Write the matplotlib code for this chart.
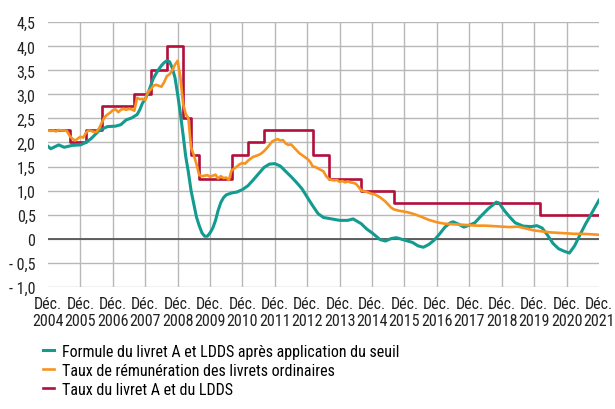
import pandas as pd
import matplotlib
matplotlib.use("Agg")
import matplotlib.pyplot as plt

# --- données
# taux du livret A et du LDDS : dates de changement et taux
livret_a_dates = ["2004-12", "2005-08", "2006-02", "2006-08", "2007-08", "2008-02",
                  "2008-08", "2009-02", "2009-05", "2009-08", "2010-08", "2011-02",
                  "2011-08", "2013-02", "2013-08", "2014-08", "2015-08", "2020-02",
                  "2021-12"]
livret_a_taux = [2.25, 2.00, 2.25, 2.75, 3.00, 3.50,
                 4.00, 2.50, 1.75, 1.25, 1.75, 2.00,
                 2.25, 1.75, 1.25, 1.00, 0.75, 0.50,
                 0.50]

# formule du livret A après application du seuil
formule_dates = ["2004-12", "2005-01", "2005-04", "2005-06", "2005-09", "2005-12",
                 "2006-02", "2006-04", "2006-07", "2006-10", "2007-01", "2007-03",
                 "2007-05", "2007-07", "2007-09", "2007-10", "2007-11", "2007-12",
                 "2008-01", "2008-02", "2008-03", "2008-04", "2008-05", "2008-06",
                 "2008-07", "2008-08", "2008-09", "2008-10", "2008-11", "2008-12",
                 "2009-01", "2009-02", "2009-03", "2009-04", "2009-05", "2009-06",
                 "2009-07", "2009-08", "2009-09", "2009-10", "2009-11", "2009-12",
                 "2010-01", "2010-02", "2010-03", "2010-04", "2010-05", "2010-06",
                 "2010-08", "2010-10", "2010-12", "2011-02", "2011-04", "2011-06",
                 "2011-08", "2011-10", "2011-12", "2012-02", "2012-04", "2012-06",
                 "2012-08", "2012-10", "2012-12", "2013-02", "2013-04", "2013-06",
                 "2013-09", "2013-12", "2014-03", "2014-05", "2014-08", "2014-10",
                 "2014-12", "2015-03", "2015-05", "2015-07", "2015-09", "2015-12",
                 "2016-03", "2016-05", "2016-07", "2016-09", "2016-11", "2017-01",
                 "2017-03", "2017-05", "2017-06", "2017-08", "2017-10", "2017-12",
                 "2018-02", "2018-04", "2018-07", "2018-10", "2018-11", "2019-01",
                 "2019-03", "2019-05", "2019-08", "2019-11", "2020-01", "2020-03",
                 "2020-05", "2020-07", "2020-09", "2020-11", "2021-01", "2021-03",
                 "2021-05", "2021-07", "2021-09", "2021-12"]
formule_taux = [1.92, 1.87, 1.95, 1.90, 1.94, 1.95,
                2.00, 2.08, 2.25, 2.33, 2.34, 2.37,
                2.47, 2.51, 2.58, 2.68, 2.82, 2.90,
                3.02, 3.18, 3.33, 3.43, 3.52, 3.60,
                3.66, 3.70, 3.68, 3.55, 3.35, 3.00,
                2.60, 2.15, 1.72, 1.38, 1.00, 0.72,
                0.45, 0.27, 0.12, 0.05, 0.05, 0.12,
                0.22, 0.38, 0.58, 0.75, 0.85, 0.91,
                0.95, 0.97, 1.02, 1.10, 1.22, 1.35,
                1.48, 1.55, 1.56, 1.51, 1.40, 1.29,
                1.17, 1.04, 0.86, 0.68, 0.52, 0.44,
                0.41, 0.38, 0.38, 0.41, 0.31, 0.20,
                0.12, -0.02, -0.05, 0.00, 0.02, -0.03,
                -0.08, -0.15, -0.18, -0.12, -0.03, 0.10,
                0.24, 0.33, 0.35, 0.30, 0.24, 0.28,
                0.33, 0.45, 0.62, 0.76, 0.74, 0.58,
                0.45, 0.33, 0.26, 0.25, 0.27, 0.22,
                0.07, -0.10, -0.21, -0.26, -0.30, -0.15,
                0.08, 0.30, 0.50, 0.80]

# taux de rémunération des livrets ordinaires
ordinaires_dates = ["2004-12", "2005-01", "2005-02", "2005-03", "2005-04", "2005-05",
                    "2005-06", "2005-07", "2005-08", "2005-09", "2005-10", "2005-11",
                    "2005-12", "2006-01", "2006-02", "2006-03", "2006-04", "2006-05",
                    "2006-06", "2006-07", "2006-08", "2006-09", "2006-10", "2006-11",
                    "2006-12", "2007-01", "2007-02", "2007-03", "2007-04", "2007-05",
                    "2007-06", "2007-07", "2007-08", "2007-09", "2007-10", "2007-11",
                    "2007-12", "2008-01", "2008-02", "2008-03", "2008-04", "2008-05",
                    "2008-06", "2008-07", "2008-08", "2008-09", "2008-10", "2008-11",
                    "2008-12", "2009-01", "2009-02", "2009-03", "2009-04", "2009-05",
                    "2009-06", "2009-07", "2009-08", "2009-09", "2009-10", "2009-11",
                    "2009-12", "2010-01", "2010-02", "2010-03", "2010-04", "2010-05",
                    "2010-06", "2010-07", "2010-08", "2010-09", "2010-10", "2010-11",
                    "2010-12", "2011-01", "2011-02", "2011-03", "2011-04", "2011-05",
                    "2011-06", "2011-07", "2011-08", "2011-09", "2011-10", "2011-11",
                    "2011-12", "2012-01", "2012-02", "2012-03", "2012-04", "2012-05",
                    "2012-06", "2012-07", "2012-08", "2012-09", "2012-10", "2012-11",
                    "2012-12", "2013-01", "2013-02", "2013-03", "2013-04", "2013-05",
                    "2013-06", "2013-07", "2013-08", "2013-09", "2013-10", "2013-11",
                    "2013-12", "2014-01", "2014-02", "2014-03", "2014-04", "2014-05",
                    "2014-06", "2014-07", "2014-08", "2014-09", "2014-10", "2014-11",
                    "2014-12", "2015-01", "2015-03", "2015-05", "2015-07", "2015-08",
                    "2015-10", "2015-12", "2016-01", "2016-03", "2016-06", "2016-09",
                    "2016-12", "2017-03", "2017-06", "2017-09", "2017-12", "2018-03",
                    "2018-06", "2018-09", "2018-12", "2019-03", "2019-06", "2019-09",
                    "2019-12", "2020-03", "2020-06", "2020-09", "2020-12", "2021-03",
                    "2021-06", "2021-09", "2021-12"]
ordinaires_taux = [2.25, 2.24, 2.25, 2.23, 2.26, 2.25,
                   2.25, 2.24, 2.14, 2.08, 2.04, 2.08,
                   2.12, 2.10, 2.20, 2.25, 2.24, 2.22,
                   2.22, 2.30, 2.42, 2.53, 2.58, 2.62,
                   2.67, 2.69, 2.63, 2.68, 2.70, 2.68,
                   2.70, 2.69, 2.66, 2.93, 2.90, 2.91,
                   2.88, 3.06, 3.10, 3.18, 3.20, 3.18,
                   3.16, 3.25, 3.38, 3.42, 3.50, 3.62,
                   3.70, 3.35, 2.80, 2.60, 2.50, 1.90,
                   1.74, 1.55, 1.32, 1.30, 1.31, 1.32,
                   1.29, 1.31, 1.33, 1.25, 1.30, 1.26,
                   1.27, 1.22, 1.42, 1.46, 1.50, 1.55,
                   1.57, 1.56, 1.62, 1.66, 1.70, 1.72,
                   1.74, 1.77, 1.82, 1.88, 1.95, 2.02,
                   2.05, 2.07, 2.04, 2.05, 1.98, 1.95,
                   1.96, 1.90, 1.84, 1.78, 1.74, 1.70,
                   1.66, 1.60, 1.50, 1.49, 1.46, 1.43,
                   1.40, 1.30, 1.24, 1.22, 1.21, 1.22,
                   1.18, 1.20, 1.17, 1.19, 1.17, 1.16,
                   1.14, 1.08, 1.00, 0.99, 0.97, 0.95,
                   0.93, 0.92, 0.86, 0.77, 0.65, 0.61,
                   0.58, 0.56, 0.55, 0.52, 0.46, 0.39,
                   0.34, 0.31, 0.30, 0.29, 0.28, 0.27,
                   0.27, 0.26, 0.25, 0.24, 0.25, 0.21,
                   0.17, 0.15, 0.13, 0.12, 0.11, 0.10,
                   0.10, 0.09, 0.08]

annees = list(range(2004, 2022))
y_ticks = [-1.0, -0.5, 0, 0.5, 1.0, 1.5, 2.0, 2.5, 3.0, 3.5, 4.0, 4.5]
y_labels = ["- 1,0", "- 0,5", "0", "0,5", "1,0", "1,5", "2,0", "2,5", "3,0", "3,5", "4,0", "4,5"]

# --- police étroite
plt.rcParams['font.family'] = ['Roboto Condensed', 'DejaVu Sans']

teal = "#139b90"
orange = "#f7931e"
rouge = "#b20f3b"

fig = plt.figure(figsize=(6.15, 4.1), dpi=100)
ax = fig.add_axes([48 / 615, 1 - 287.7 / 410, 551 / 615, 264.4 / 410])

ax.plot(pd.to_datetime(formule_dates), formule_taux, color=teal, lw=2.2,
        label="Formule du livret A et LDDS après application du seuil", zorder=3)
ax.plot(pd.to_datetime(ordinaires_dates), ordinaires_taux, color=orange, lw=1.9,
        label="Taux de rémunération des livrets ordinaires", zorder=4)
ax.plot(pd.to_datetime(livret_a_dates), livret_a_taux, color=rouge, lw=1.9,
        drawstyle="steps-post", label="Taux du livret A et du LDDS", zorder=2)

ax.axhline(0, color="#555555", lw=1.3, zorder=1)

ax.set_xlim(pd.Timestamp("2004-12-01"), pd.Timestamp("2021-12-01"))
ax.set_ylim(-1.0, 4.5)
ax.set_yticks(y_ticks)
ax.set_yticklabels(y_labels)
ax.set_xticks([pd.Timestamp(f"{a}-12-01") for a in annees])
ax.set_xticklabels([f"Déc.\n{a}" for a in annees], linespacing=1.15)

ax.tick_params(length=0, labelsize=11.5, colors="#222222")
ax.tick_params(axis="y", pad=9)
ax.tick_params(axis="x", pad=7)

for s in ax.spines.values():
    s.set_visible(False)
ax.grid(True, color="#b8b8b8", lw=1.0, zorder=0)
ax.set_axisbelow(True)
xgrid = ax.xaxis.get_gridlines()
xgrid[0].set_visible(False)
xgrid[-1].set_visible(False)

fig.legend(loc="upper left", bbox_to_anchor=(43 / 615, 1 - 345 / 410), frameon=False,
           fontsize=11.5, handlelength=0.7, handletextpad=0.5, labelspacing=0.25,
           borderaxespad=0, borderpad=0)

fig.savefig("out.png", dpi=100)
